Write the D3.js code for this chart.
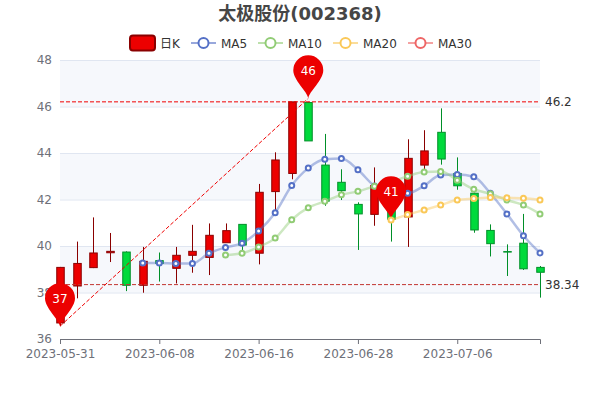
<!DOCTYPE html>
<html>
<head>
<meta charset="utf-8">
<script src="https://cdn.jsdelivr.net/npm/d3@7"></script>
<style>
  html, body { margin: 0; padding: 0; background: #fff; }
  svg { display: block; }
  text { font-family: "DejaVu Sans", "Noto Sans CJK SC", sans-serif; }
</style>
</head>
<body>
<script>
const dates = ['2023-05-31','2023-06-01','2023-06-02','2023-06-05','2023-06-06','2023-06-07','2023-06-08','2023-06-09','2023-06-12','2023-06-13',
  '2023-06-14','2023-06-15','2023-06-16','2023-06-19','2023-06-20','2023-06-21','2023-06-26','2023-06-27','2023-06-28','2023-06-29',
  '2023-06-30','2023-07-03','2023-07-04','2023-07-05','2023-07-06','2023-07-07','2023-07-10','2023-07-11','2023-07-12','2023-07-13'];
const shownDates = ['2023-05-31','2023-06-08','2023-06-16','2023-06-28','2023-07-06'];
const yTicks = [36, 38, 40, 42, 44, 46, 48];

const opens  = [36.69,38.28,39.07,39.71,39.74,38.31,39.37,39.04,39.60,39.51,40.14,40.93,39.69,42.34,43.12,46.17,43.48,42.74,41.79,41.36,42.55,41.25,43.48,44.89,43.12,42.27,40.67,39.76,40.12,39.08];
const closes = [39.08,39.25,39.70,39.77,38.31,39.34,39.25,39.60,39.77,40.46,40.66,40.04,42.31,43.70,46.20,44.52,41.93,42.38,41.38,42.60,41.15,43.77,44.09,43.74,42.59,40.69,40.10,39.74,39.02,38.87];
const lows   = [36.55,37.75,39.05,39.31,38.06,37.99,38.47,38.39,38.85,38.75,40.14,39.70,39.21,41.55,42.87,44.52,41.73,41.98,39.83,40.87,40.19,39.96,43.27,43.50,42.42,40.57,39.55,38.71,38.97,37.78];
const highs  = [39.10,40.19,41.23,40.56,39.77,39.96,39.72,39.96,40.91,40.97,40.97,40.93,42.67,44.03,46.20,46.20,44.82,43.30,41.88,43.38,42.70,44.59,44.98,45.92,43.81,42.30,40.93,40.07,41.38,39.14];

const ma5  = [null,null,null,null,null,39.27,39.27,39.25,39.25,39.69,39.94,40.12,40.64,41.43,42.60,43.35,43.73,43.76,43.28,42.58,42.30,42.27,42.59,43.05,43.07,42.98,42.27,41.38,40.44,39.70];
const ma10 = [null,null,null,null,null,null,null,null,null,null,39.61,39.69,39.96,40.34,41.13,41.65,41.92,42.20,42.35,42.57,42.75,43.00,43.18,43.20,42.83,42.44,42.25,41.98,41.76,41.38];
const ma20 = [null,null,null,null,null,null,null,null,null,null,null,null,null,null,null,null,null,null,null,null,41.12,41.35,41.55,41.76,41.98,42.04,42.09,42.08,42.05,41.98];

const legendItems = [
  { name: 'MA5',  color: '#5470c6', x: 191 },
  { name: 'MA10', color: '#91cc75', x: 258 },
  { name: 'MA20', color: '#fac858', x: 333 },
  { name: 'MA30', color: '#ee6666', x: 408 }
];

// pins: index, value at the tip, label
const pins = [
  { i: 0,  tip: 36.55, label: '37' },
  { i: 15, tip: 46.35, label: '46' },
  { i: 20, tip: 41.15, label: '41' }
];
const levels = [
  { value: 46.2,  label: '46.2',  color: '#f00000' },
  { value: 38.34, label: '38.34', color: '#c23531' }
];

const width = 600, height = 400;
const plotLeft = 60, plotRight = 540, plotTop = 60, plotBottom = 339;

const x = d3.scalePoint().domain(dates).range([plotLeft, plotRight]);
const y = d3.scaleLinear().domain([36, 48]).range([plotBottom, plotTop]);
const barW = 7.5;

const svg = d3.select('body').append('svg').attr('width', width).attr('height', height);

// title
svg.append('text').attr('x', 300).attr('y', 20).attr('text-anchor', 'middle')
  .attr('font-size', 18).attr('font-weight', 'bold').attr('fill', '#464646')
  .text('太极股份(002368)');

// shaded bands
d3.range(0, yTicks.length - 1).forEach(k => {
  if (k % 2 === 0) return;
  svg.append('rect')
    .attr('x', plotLeft).attr('width', plotRight - plotLeft)
    .attr('y', y(yTicks[k + 1])).attr('height', y(yTicks[k]) - y(yTicks[k + 1]))
    .attr('fill', '#f6f8fc');
});

// y axis
const yAxis = svg.append('g').attr('transform', `translate(${plotLeft},0)`)
  .call(d3.axisLeft(y).tickValues(yTicks).tickSize(0).tickPadding(8));
yAxis.select('.domain').remove();
yAxis.selectAll('text').attr('font-size', 12).attr('fill', '#6e7079').style('font-family', '"DejaVu Sans"');
yAxis.selectAll('.tick').append('line')
  .attr('x1', 0).attr('x2', plotRight - plotLeft)
  .attr('stroke', '#e0e6f1');

// x axis
const xAxis = svg.append('g').attr('transform', `translate(0,${plotBottom})`)
  .call(d3.axisBottom(x).tickValues(shownDates).tickSize(5).tickPadding(5));
xAxis.select('.domain').attr('stroke', '#6e7079');
xAxis.selectAll('line').attr('stroke', '#6e7079');
xAxis.selectAll('text').attr('font-size', 12).attr('fill', '#6e7079').style('font-family', '"DejaVu Sans"');

// candles
const isUp = i => closes[i] >= opens[i];
const candles = svg.append('g');
dates.forEach((d, i) => {
  const cx = Math.round(x(d)) + 0.5;
  const t = Math.max(opens[i], closes[i]), b = Math.min(opens[i], closes[i]);
  const border = isUp(i) ? '#8a0000' : '#008f28';
  candles.append('line').attr('x1', cx).attr('x2', cx).attr('y1', y(highs[i])).attr('y2', y(t)).attr('stroke', border);
  candles.append('line').attr('x1', cx).attr('x2', cx).attr('y1', y(b)).attr('y2', y(lows[i])).attr('stroke', border);
  candles.append('rect')
    .attr('x', cx - barW / 2).attr('width', barW)
    .attr('y', y(t)).attr('height', Math.max(y(b) - y(t), 0.5))
    .attr('fill', isUp(i) ? '#ec0000' : '#00da3c')
    .attr('stroke', border);
});

// moving averages
const line = d3.line()
  .defined(d => d != null)
  .x((d, i) => x(dates[i]))
  .y(d => y(d))
  .curve(d3.curveMonotoneX);

const drawMa = (values, color) => {
  const g = svg.append('g');
  g.append('path').attr('d', line(values))
    .attr('fill', 'none').attr('stroke', color).attr('stroke-width', 2.5).attr('opacity', 0.45);
  g.selectAll('circle').data(values.map((v, i) => ({ v, i })).filter(p => p.v != null))
    .join('circle')
    .attr('cx', p => x(dates[p.i])).attr('cy', p => y(p.v)).attr('r', 2.5)
    .attr('fill', '#fff').attr('stroke', color).attr('stroke-width', 2);
};

drawMa(ma5, '#5470c6');
drawMa(ma10, '#91cc75');

// level lines
levels.forEach(l => {
  svg.append('line')
    .attr('x1', plotLeft).attr('x2', plotRight - 2)
    .attr('y1', y(l.value)).attr('y2', y(l.value))
    .attr('stroke', l.color).attr('stroke-dasharray', '4 2');
  svg.append('text').attr('x', plotRight + 5).attr('y', y(l.value) + 4)
    .attr('font-size', 12).attr('fill', '#333').text(l.label);
});

// diagonal line between first and second pin
const p0 = pins[0], p1 = pins[1];
svg.append('line')
  .attr('x1', x(dates[p0.i])).attr('y1', y(p0.tip))
  .attr('x2', x(dates[p1.i])).attr('y2', y(p1.tip))
  .attr('stroke', '#f00000').attr('stroke-dasharray', '4 2');

// pins
pins.forEach(p => {
  const px = x(dates[p.i]), py = y(p.tip);
  const r = 15, cy = py - 28;
  const g = svg.append('g');
  g.append('path')
    .attr('d', `M${px},${py} C${px - 1},${py - 7} ${px - r},${cy + 10} ${px - r},${cy} A${r},${r} 0 1 1 ${px + r},${cy} C${px + r},${cy + 10} ${px + 1},${py - 7} ${px},${py} Z`)
    .attr('fill', '#ec0000');
  g.append('text').attr('x', px).attr('y', cy + 4.5).attr('text-anchor', 'middle')
    .attr('font-size', 12).attr('fill', '#fff').text(p.label);
});

// the 41 pin tip sits under the MA20 marker
drawMa(ma20, '#fac858');

// legend
const legendY = 43;
svg.append('rect').attr('x', 130).attr('y', legendY - 7.5).attr('width', 25).attr('height', 15).attr('rx', 3)
  .attr('fill', '#ec0000').attr('stroke', '#8a0000').attr('stroke-width', 2);
svg.append('text').attr('x', 160).attr('y', legendY + 4.5).attr('font-size', 12).attr('fill', '#333').text('日K');
legendItems.forEach(m => {
  const g = svg.append('g');
  g.append('line').attr('x1', m.x).attr('x2', m.x + 25).attr('y1', legendY).attr('y2', legendY)
    .attr('stroke', m.color).attr('stroke-width', 2).attr('opacity', 0.6);
  g.append('circle').attr('cx', m.x + 12.5).attr('cy', legendY).attr('r', 5)
    .attr('fill', '#fff').attr('stroke', m.color).attr('stroke-width', 2);
  g.append('text').attr('x', m.x + 30).attr('y', legendY + 4.5).attr('font-size', 12).attr('fill', '#333').text(m.name);
});
</script>
</body>
</html>
